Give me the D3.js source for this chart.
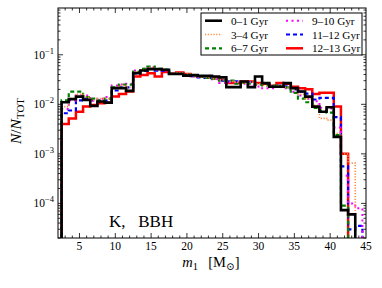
<!DOCTYPE html>
<html><head><meta charset="utf-8">
<script src="https://cdn.jsdelivr.net/npm/d3@7"></script>
<style>body{margin:0;background:#fff}svg{display:block}text{font-family:"Liberation Serif","DejaVu Serif",serif;fill:#000}</style>
</head><body><svg id="c" width="382" height="288"></svg>
<script>
// bin lower edges (width 1 M_sun)
const binEdges = [2.5,3.5,4.5,5.5,6.5,7.5,8.5,9.5,10.5,11.5,12.5,13.5,14.5,15.5,16.5,17.5,18.5,19.5,20.5,21.5,22.5,23.5,24.5,25.5,26.5,27.5,28.5,29.5,30.5,31.5,32.5,33.5,34.5,35.5,36.5,37.5,38.5,39.5,40.5,41.5,42.5,43.5];
const labels = ["0\u20131 Gyr","3\u20134 Gyr","6\u20137 Gyr","9\u201310 Gyr","11\u201312 Gyr","12\u201313 Gyr"];
const s0_1 = [0.0110,0.0127,0.0143,0.0123,0.0093,0.0114,0.0108,0.0212,0.0212,0.0187,0.0426,0.048,0.0513,0.0513,0.050,0.041,0.041,0.038,0.039,0.0375,0.0375,0.0364,0.035,0.0222,0.0222,0.0288,0.0222,0.0364,0.0268,0.0227,0.0227,0.0268,0.0212,0.0181,0.0143,0.009,0.0071,0.0087,0.0022,0.000073,0.00006,0];
const s3_4 = [0.009,0.013,0.016,0.014,0.012,0.013,0.013,0.021,0.024,0.022,0.045,0.050,0.055,0.050,0.050,0.042,0.043,0.041,0.039,0.036,0.035,0.033,0.031,0.029,0.028,0.027,0.028,0.026,0.024,0.023,0.024,0.022,0.020,0.016,0.013,0.0095,0.0052,0.0048,0.0026,0.0010,0.00065,0];
const s6_7 = [0.012,0.018,0.018,0.014,0.013,0.012,0.013,0.022,0.025,0.025,0.046,0.052,0.058,0.052,0.050,0.042,0.042,0.040,0.038,0.036,0.034,0.033,0.030,0.030,0.026,0.027,0.026,0.025,0.024,0.024,0.023,0.022,0.017,0.013,0.011,0.0085,0.0075,0.0068,0.0024,0.00009,0,0];
const s9_10 = [0.008,0.012,0.015,0.015,0.012,0.013,0.014,0.024,0.025,0.026,0.048,0.052,0.056,0.050,0.049,0.041,0.042,0.040,0.038,0.036,0.034,0.032,0.027,0.028,0.028,0.026,0.024,0.023,0.021,0.021,0.023,0.021,0.018,0.015,0.013,0.0115,0.0085,0.0082,0.0034,0.00036,0.0001,0.00008];
const s11_12 = [0.0066,0.0075,0.012,0.013,0.012,0.012,0.012,0.019,0.022,0.022,0.042,0.047,0.052,0.048,0.047,0.041,0.041,0.039,0.037,0.035,0.034,0.033,0.030,0.029,0.029,0.028,0.028,0.026,0.025,0.023,0.024,0.023,0.020,0.018,0.0165,0.0125,0.0135,0.0135,0.0055,0.00056,0.00003,0.000035];
const s12_13 = [0.004,0.0052,0.0071,0.009,0.0097,0.0105,0.0108,0.0143,0.0162,0.0181,0.0364,0.039,0.0426,0.0364,0.045,0.042,0.044,0.041,0.0375,0.036,0.035,0.0337,0.031,0.0268,0.027,0.0288,0.0288,0.0268,0.026,0.0236,0.0268,0.026,0.0227,0.0212,0.0202,0.0162,0.0172,0.0172,0.009,0.001,0,0];
const xTicks = [5,10,15,20,25,30,35,40,45];
const yTicks = [1e-1,1e-2,1e-3,1e-4];
const yExp = ["\u22121","\u22122","\u22123","\u22124"];

const series = [
  {name:labels[0], v:s0_1, color:"#000000", w:2.6, dash:null},
  {name:labels[1], v:s3_4, color:"#ff8c40", w:1.6, dash:"1.2,1.6"},
  {name:labels[2], v:s6_7, color:"#008000", w:2.2, dash:"4,3"},
  {name:labels[3], v:s9_10, color:"#ff00ff", w:2, dash:"2,3.5"},
  {name:labels[4], v:s11_12, color:"#0000ff", w:2.2, dash:"4,3"},
  {name:labels[5], v:s12_13, color:"#ff0000", w:2.5, dash:null}
];
const drawOrder = [5,4,3,2,1,0];

const L=58, R=366, T=8, B=238;
const svg = d3.select("#c");
const x = d3.scaleLinear().domain([2,45]).range([L,R]);
const y = d3.scaleLog().domain([2e-5,0.88]).range([B,T]);

svg.append("clipPath").attr("id","clip").append("rect").attr("x",L).attr("y",T).attr("width",R-L).attr("height",B-T);

function yv(v){ return v>0 ? y(v) : B+20; }
function pathFor(vals){
  let d="";
  let started=false;
  for(let i=0;i<vals.length;i++){
    const x0=x(binEdges[i]), x1=x(binEdges[i]+1), yy=yv(vals[i]);
    if(!started){ if(vals[i]<=0) continue; d+=`M${x0},${B+20}L${x0},${yy}`; started=true; }
    else d+=`L${x0},${yy}`;
    d+=`L${x1},${yy}`;
  }
  const xe = x(binEdges[binEdges.length-1]+1);
  d+=`L${xe},${B+20}`;
  return d;
}
const g = svg.append("g").attr("clip-path","url(#clip)");
drawOrder.forEach(i=>{
  const s=series[i];
  g.append("path").attr("d",pathFor(s.v)).attr("fill","none").attr("stroke",s.color)
   .attr("stroke-width",s.w).attr("stroke-dasharray",s.dash).attr("stroke-linejoin","miter");
});

// frame
svg.append("rect").attr("x",L).attr("y",T).attr("width",R-L).attr("height",B-T).attr("fill","none").attr("stroke","#000").attr("stroke-width",1);

// ticks
const tk = svg.append("g").attr("stroke","#000").attr("stroke-width",0.8);
d3.range(3,45).forEach(v=>{
  const major = xTicks.includes(v);
  const len = major?5:2.5;
  tk.append("line").attr("x1",x(v)).attr("x2",x(v)).attr("y1",B).attr("y2",B-len);
  tk.append("line").attr("x1",x(v)).attr("x2",x(v)).attr("y1",T).attr("y2",T+len);
});
xTicks.forEach(v=>{
  svg.append("text").attr("x",x(v)).attr("y",B+12).attr("text-anchor","middle").attr("font-size",11.5).text(v);
});
for(let e=-5;e<=0;e++){
  for(let m=1;m<=9;m++){
    const v=m*Math.pow(10,e);
    if(v<2e-5||v>0.88) continue;
    const len = m===1?5:2.5;
    tk.append("line").attr("x1",L).attr("x2",L+len).attr("y1",y(v)).attr("y2",y(v));
    tk.append("line").attr("x1",R).attr("x2",R-len).attr("y1",y(v)).attr("y2",y(v));
  }
}
yTicks.forEach((v,i)=>{
  const t=svg.append("text").attr("x",L-4).attr("y",y(v)+4).attr("text-anchor","end").attr("font-size",11.5);
  t.append("tspan").text("10");
  t.append("tspan").attr("dy",-5).attr("font-size",8.5).text(yExp[i]);
});

// axis labels
const xl = svg.append("text").attr("x",211).attr("y",267).attr("text-anchor","middle").attr("font-size",14.5);
xl.append("tspan").attr("font-style","italic").text("m");
xl.append("tspan").attr("dy",3).attr("font-size",10.5).text("1");
xl.append("tspan").attr("dy",-3).text("\u2002\u2009[M");
xl.append("tspan").attr("dy",3).attr("font-size",10.5).text("\u2299");
xl.append("tspan").attr("dy",-3).text("]");

const yl = svg.append("text").attr("transform","translate(21,121) rotate(-90)").attr("text-anchor","middle").attr("font-size",15.5);
yl.append("tspan").attr("font-style","italic").text("N");
yl.append("tspan").text("/");
yl.append("tspan").attr("font-style","italic").text("N");
yl.append("tspan").attr("dy",3).attr("font-size",11).text("TOT");

svg.append("text").attr("x",109).attr("y",227).attr("font-size",17).text("K,\u2002 BBH");

// legend
const lg = svg.append("g");
lg.append("rect").attr("x",201).attr("y",13).attr("width",161).attr("height",42).attr("fill","#fff").attr("stroke","#000").attr("stroke-width",1);
series.forEach((s,i)=>{
  const col = i<3?0:1, row=i%3;
  const lx = col===0?205:286, ty = 20.7+row*13.8;
  lg.append("line").attr("x1",lx).attr("x2",lx+17).attr("y1",ty).attr("y2",ty)
    .attr("stroke",s.color).attr("stroke-width",s.w).attr("stroke-dasharray",s.dash);
  lg.append("text").attr("x",lx+26).attr("y",ty+4).attr("font-size",11.2).text(s.name);
});
</script></body></html>
